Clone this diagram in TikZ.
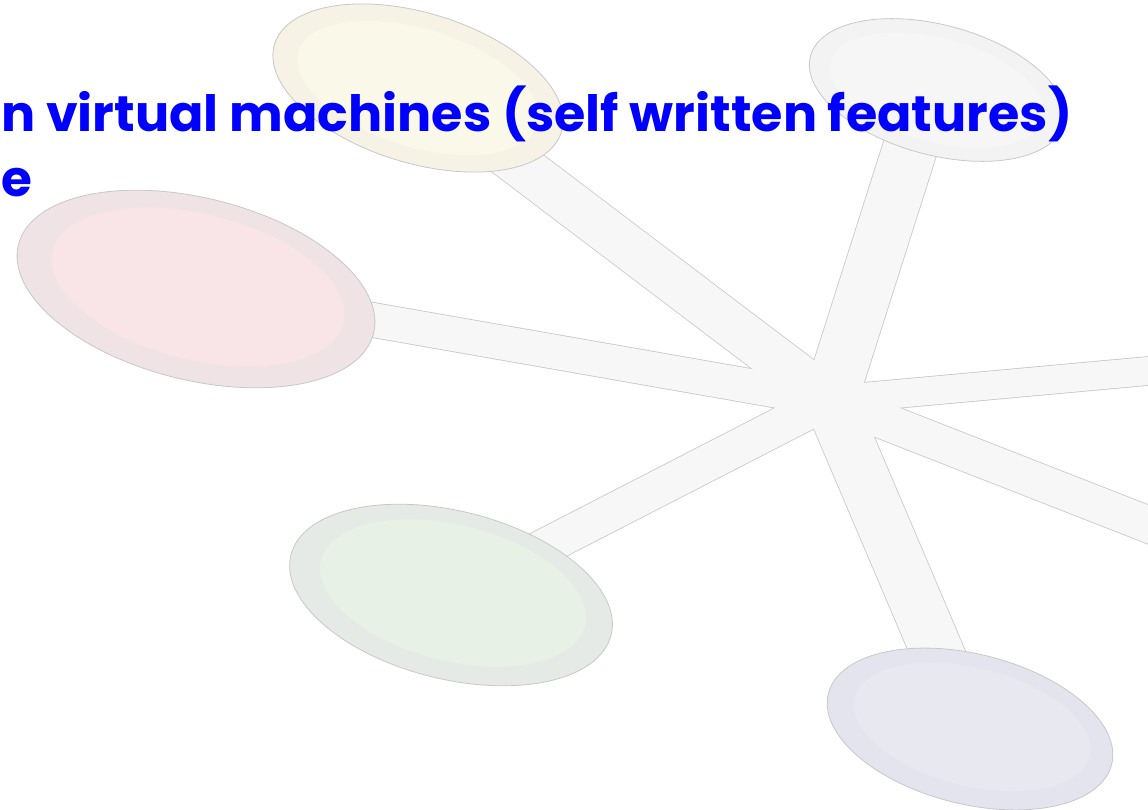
\documentclass[tikz,border=0pt]{standalone}
\usepackage{fontspec}
\usepackage{graphicx}
\setmainfont{Poppins}
\usetikzlibrary{shapes.geometric}
\definecolor{spokefill}{RGB}{247,247,247}
\definecolor{spokeline}{RGB}{200,200,200}
\definecolor{yelO}{RGB}{247,242,230}\definecolor{yelI}{RGB}{250,248,232}
\definecolor{pinO}{RGB}{239,227,229}\definecolor{pinI}{RGB}{249,228,232}
\definecolor{grnO}{RGB}{230,234,230}\definecolor{grnI}{RGB}{231,241,229}
\definecolor{lavO}{RGB}{228,228,238}\definecolor{lavI}{RGB}{232,232,240}
\definecolor{gryO}{RGB}{243,243,243}\definecolor{gryI}{RGB}{246,246,246}
\definecolor{txtblue}{RGB}{0,0,255}
\tikzset{
  outerell/.style={ellipse, draw=spokeline, line width=0.8pt, inner sep=0pt},
  innerell/.style={ellipse, draw=none, inner sep=0pt},
  spokeedge/.style={draw=spokeline, line width=#1+1.6pt, line cap=butt},
  spokebody/.style={draw=spokefill, line width=#1, line cap=butt},
  title/.style={text=txtblue, font=\fontsize{50}{56}\selectfont\bfseries, inner sep=0pt, anchor=base west}
}
\begin{document}
\begin{tikzpicture}[x=1pt,y=-1pt]
\useasboundingbox (0,0) rectangle (1148,810);
\clip (0,0) rectangle (1148,810);
\fill[white] (0,0) rectangle (1148,810);
% anchor points
\coordinate (hub) at (830,400);
\coordinate (cY) at (418,88);
\coordinate (cG) at (928,92);
\coordinate (cP) at (196,289);
\coordinate (cR1) at (1170,369);
\coordinate (cR2) at (1170,533);
\coordinate (cN) at (451,595);
\coordinate (cL) at (970,729);
% spoke borders
\draw[spokeedge=44pt] (hub) -- (cY);
\draw[spokeedge=54pt] (hub) -- (cG);
\draw[spokeedge=34pt] (hub) -- (cP);
\draw[spokeedge=28pt] (hub) -- (cR1);
\draw[spokeedge=36pt] (hub) -- (cR2);
\draw[spokeedge=36pt] (hub) -- (cN);
\draw[spokeedge=52pt] (hub) -- (cL);
% spoke bodies
\draw[spokebody=44pt] (hub) -- (cY);
\draw[spokebody=54pt] (hub) -- (cG);
\draw[spokebody=34pt] (hub) -- (cP);
\draw[spokebody=28pt] (hub) -- (cR1);
\draw[spokebody=36pt] (hub) -- (cR2);
\draw[spokebody=36pt] (hub) -- (cN);
\draw[spokebody=52pt] (hub) -- (cL);
% ellipses
\node[outerell, fill=yelO, minimum width=300pt, minimum height=150pt, rotate=-17] (yel) at (cY) {};
\node[innerell, fill=yelI, minimum width=250pt, minimum height=118pt, rotate=-17] (yelin) at (cY) {};
\node[outerell, fill=gryO, minimum width=262pt, minimum height=130pt, rotate=-15] (gry) at (937,90) {};
\node[innerell, fill=gryI, minimum width=220pt, minimum height=104pt, rotate=-15] (gryin) at (937,90) {};
\node[outerell, fill=pinO, minimum width=366pt, minimum height=182pt, rotate=-14] (pin) at (cP) {};
\node[innerell, fill=pinI, minimum width=300pt, minimum height=146pt, rotate=-14] (pinin) at (198,287) {};
\node[outerell, fill=grnO, minimum width=330pt, minimum height=168pt, rotate=-14] (grn) at (cN) {};
\node[innerell, fill=grnI, minimum width=272pt, minimum height=136pt, rotate=-14] (grnin) at (453,593) {};
\node[outerell, fill=lavO, minimum width=292pt, minimum height=150pt, rotate=-14] (lav) at (cL) {};
\node[innerell, fill=lavI, minimum width=242pt, minimum height=118pt, rotate=-14] (lavin) at (972,727) {};
% text
\node[title] (line1) at (1,132) {\resizebox{1071pt}{\height}{n virtual machines (self written features)}};
\node[title] (line2) at (1,197) {e};
\end{tikzpicture}
\end{document}
